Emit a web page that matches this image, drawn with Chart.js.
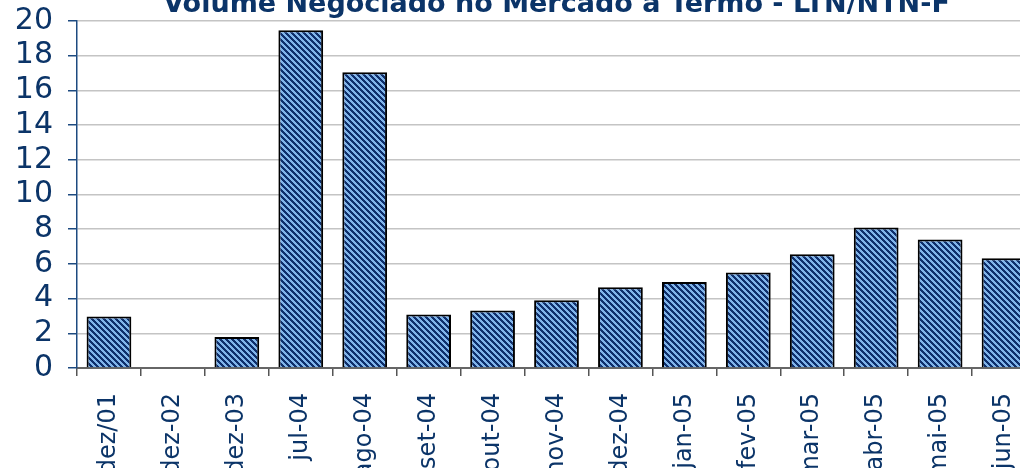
<!DOCTYPE html>
<html>
<head>
<meta charset="utf-8">
<script src="https://cdn.jsdelivr.net/npm/chart.js@4.4.1/dist/chart.umd.min.js"></script>
<style>
  html, body { margin: 0; padding: 0; background: #fff; overflow: hidden; }
  #wrap { position: absolute; left: 0; top: -12px; width: 1106px; height: 480px; }
</style>
</head>
<body>
<div id="wrap"><canvas id="grafico"></canvas></div>
<script>
const meses = ["dez/01", "dez-02", "dez-03", "jul-04", "ago-04", "set-04", "out-04",
  "nov-04", "dez-04", "jan-05", "fev-05", "mar-05", "abr-05", "mai-05", "jun-05"];
const volumes = [2.97, 0, 1.79, 19.46, 17.05, 3.08, 3.32, 3.9, 4.65, 4.96, 5.5, 6.55, 8.1, 7.4, 6.32];
const titulo = "Volume Negociado no Mercado a Termo - LTN/NTN-F";

const azulTexto = "#0b3468";

// hachura diagonal das barras
function criarHachura() {
  const n = 6;
  const c = document.createElement("canvas");
  c.width = n;
  c.height = n;
  const ctx = c.getContext("2d");
  for (let x = 0; x < n; x++) {
    for (let y = 0; y < n; y++) {
      const d = ((x - y) % n + n) % n;
      ctx.fillStyle = d < 3 ? "#0e2f6c" : "#80b4ea";
      ctx.fillRect(x, y, 1, 1);
    }
  }
  return document.getElementById("grafico").getContext("2d").createPattern(c, "repeat");
}

new Chart(document.getElementById("grafico"), {
  type: "bar",
  data: {
    labels: meses,
    datasets: [{
      data: volumes,
      backgroundColor: criarHachura(),
      borderColor: "#000",
      borderWidth: 2,
      borderSkipped: "bottom",
      barPercentage: 0.7,
      categoryPercentage: 1,
    }],
  },
  options: {
    responsive: true,
    maintainAspectRatio: false,
    animation: false,
    layout: { padding: { left: 0, right: 70, top: 0, bottom: 0 } },
    plugins: {
      legend: { display: false },
      tooltip: { enabled: false },
      title: {
        display: true,
        fullSize: false,
        text: titulo,
        color: azulTexto,
        font: { family: "DejaVu Sans", size: 27, weight: "bold", lineHeight: 1.2 },
        padding: { top: 0, bottom: 0.3 },
      },
    },
    scales: {
      x: {
        offset: true,
        grid: {
          offset: true,
          drawOnChartArea: false,
          tickLength: 8,
          tickColor: "#555",
          lineWidth: 1.5,
        },
        border: { color: "#666", width: 2 },
        ticks: {
          color: azulTexto,
          font: { family: "DejaVu Sans", size: 24 },
          minRotation: 90,
          maxRotation: 90,
          padding: 17,
          autoSkip: false,
        },
        afterFit: (s) => { s.height = 100; },
      },
      y: {
        min: 0,
        max: 20,
        ticks: {
          stepSize: 2,
          autoSkip: false,
          color: azulTexto,
          font: { family: "DejaVu Sans", size: 30 },
          padding: 15,
        },
        grid: {
          color: "#c4c4c4",
          lineWidth: 1.5,
          tickLength: 9,
          tickColor: "#1d4a80",
        },
        border: { color: "#1d4a80", width: 1.5 },
        afterFit: (s) => { s.width = 77; },
      },
    },
  },
});
</script>
</body>
</html>
